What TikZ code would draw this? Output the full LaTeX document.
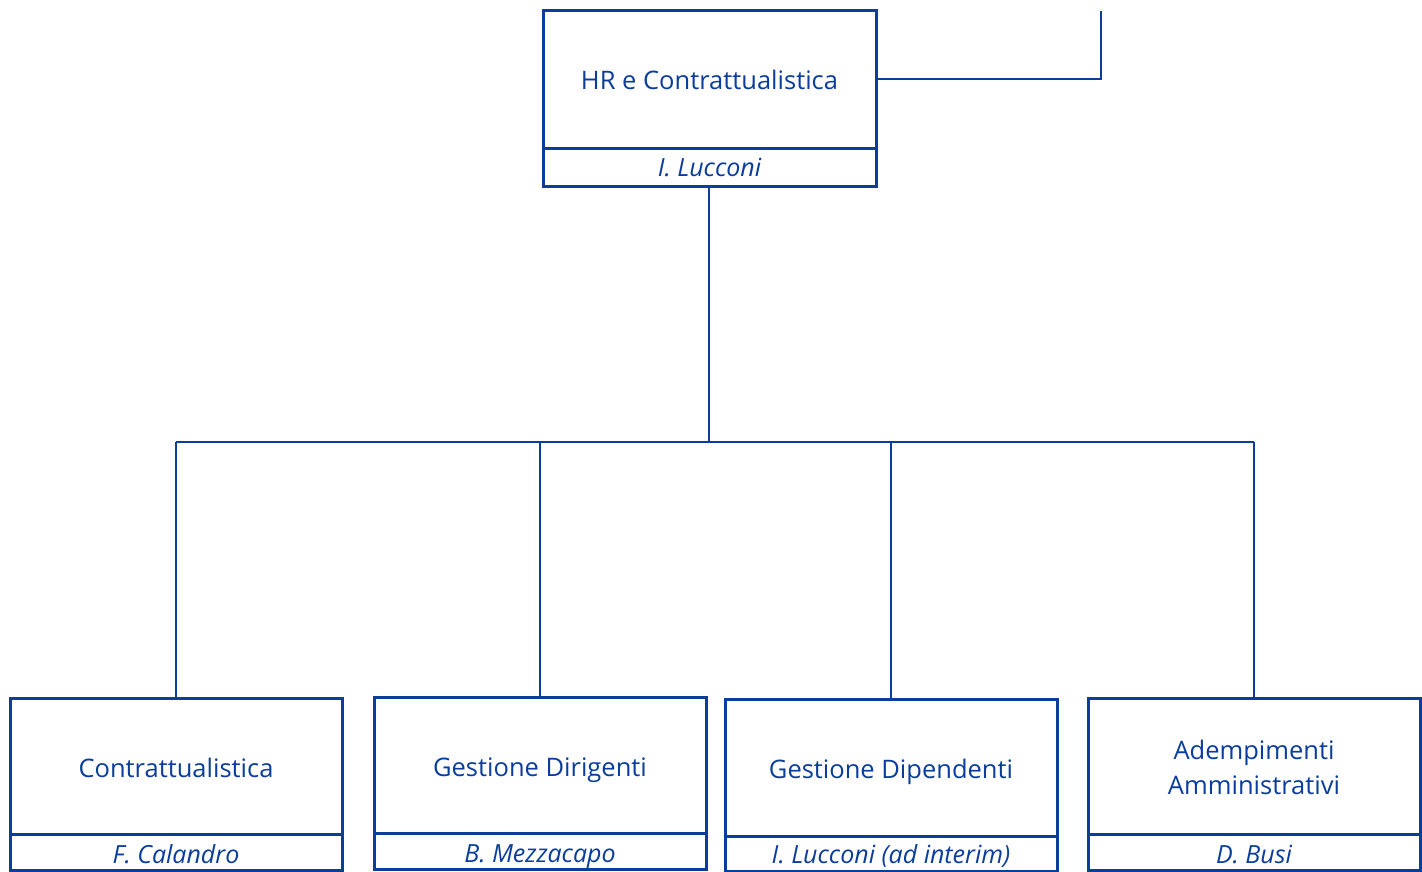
\documentclass[tikz,border=0pt]{standalone}
\usepackage{fontspec}
\setmainfont{Open Sans}
\definecolor{hrblue}{HTML}{0A3D9C}
\begin{document}
\begin{tikzpicture}[x=1pt,y=-1pt,
  box/.style={draw=hrblue,line width=3pt,fill=white,inner sep=0pt},
  conn/.style={draw=hrblue,line width=2.8pt},
  title/.style={text=hrblue,font=\fontsize{25.5}{35}\selectfont,align=center,inner sep=0pt},
  person/.style={text=hrblue,font=\fontsize{25}{30}\selectfont\itshape,inner sep=0pt,anchor=base}]
\useasboundingbox (0,0) rectangle (1422,872);
% connectors first
\coordinate (tr) at (1101,11);
\coordinate (tc) at (1101,79);
\coordinate (bus) at (709,442);
\coordinate (b1) at (176,442);
\coordinate (b2) at (540,442);
\coordinate (b3) at (891,442);
\coordinate (b4) at (1254,442);
\draw[conn] (tr) -- (tc) -- (876,79);
\draw[conn] (709,186) -- (bus);
\draw[conn] (b1) -- (b4);
\draw[conn] (b1) -- (176,698);
\draw[conn] (b2) -- (540,697);
\draw[conn] (b3) -- (891,699);
\draw[conn] (b4) -- (1254,698);
% top box
\draw[box] (543,11) rectangle (876,149);
\draw[box] (543,149) rectangle (876,186);
\node[title,anchor=base] (hr) at (709.5,90) {HR e Contrattualistica};
\node[person] (hrp) at (709.5,177) {I. Lucconi};
% bottom boxes
\draw[box] (10,698) rectangle (342,834);
\draw[box] (10,834) rectangle (342,870);
\node[title,anchor=base] (c1) at (176,777) {Contrattualistica};
\node[person] (p1) at (176,863) {F. Calandro};
\draw[box] (374,697) rectangle (706,833);
\draw[box] (374,833) rectangle (706,869);
\node[title,anchor=base] (c2) at (540,776) {Gestione Dirigenti};
\node[person] (p2) at (540,862) {B. Mezzacapo};
\draw[box] (725,699) rectangle (1057,836);
\draw[box] (725,836) rectangle (1057,871);
\node[title,anchor=base] (c3) at (891,778) {Gestione Dipendenti};
\node[person] (p3) at (891,863) {I. Lucconi (ad interim)};
\draw[box] (1088,698) rectangle (1420,834);
\draw[box] (1088,834) rectangle (1420,870);
\node[title] (c4) at (1254,767) {Adempimenti\\Amministrativi};
\node[person] (p4) at (1254,863) {D. Busi};
\end{tikzpicture}
\end{document}
